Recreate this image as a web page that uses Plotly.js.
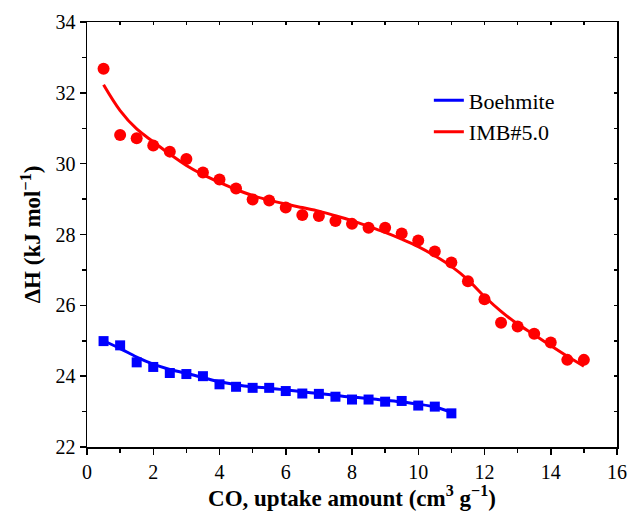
<!DOCTYPE html>
<html>
<head>
<meta charset="utf-8">
<script src="https://cdn.plot.ly/plotly-3.0.1.min.js"></script>
</head>
<body style="margin:0">
<div id="chart"></div>
<script>
// Data
const xImb = [0.5,1,1.5,2,2.5,3,3.5,4,4.5,5,5.5,6,6.5,7,7.5,8,8.5,9,9.5,10,10.5,11,11.5,12,12.5,13,13.5,14,14.5,15];
const yImb = [32.68,30.81,30.72,30.51,30.34,30.13,29.75,29.55,29.30,28.99,28.96,28.76,28.55,28.52,28.38,28.30,28.19,28.19,28.03,27.83,27.52,27.21,26.68,26.17,25.51,25.40,25.20,24.95,24.46,24.46];
const yImbFit = [32.23,31.50,30.98,30.62,30.27,29.95,29.69,29.47,29.27,29.10,28.97,28.86,28.76,28.66,28.53,28.39,28.23,28.06,27.87,27.66,27.40,27.10,26.72,26.25,25.83,25.47,25.17,24.86,24.56,24.28];

const xBoe = [0.5,1,1.5,2,2.5,3,3.5,4,4.5,5,5.5,6,6.5,7,7.5,8,8.5,9,9.5,10,10.5,11];
const yBoe = [24.99,24.87,24.39,24.26,24.09,24.06,24.00,23.77,23.70,23.67,23.67,23.58,23.51,23.50,23.42,23.34,23.34,23.28,23.30,23.17,23.14,22.95];
const yBoeFit = [25.00,24.78,24.54,24.34,24.19,24.08,23.96,23.84,23.76,23.70,23.66,23.61,23.56,23.51,23.46,23.41,23.37,23.32,23.27,23.21,23.13,22.98];

const xTicks = [0,2,4,6,8,10,12,14,16];
const yTicks = [22,24,26,28,30,32,34];

const FAM = 'Liberation Serif';

const traces = [
  {x: xBoe, y: yBoeFit, mode: 'lines', name: 'Boehmite', line: {color: '#0000ff', width: 3, shape: 'spline'}},
  {x: xImb, y: yImbFit, mode: 'lines', name: 'IMB#5.0', line: {color: '#ff0000', width: 3, shape: 'spline'}},
  {x: xBoe, y: yBoe, mode: 'markers', showlegend: false, marker: {symbol: 'square', size: 10, color: '#0000ff'}},
  {x: xImb, y: yImb, mode: 'markers', showlegend: false, marker: {symbol: 'circle', size: 12, color: '#ff0000'}}
];

const layout = {
  width: 630, height: 518,
  margin: {l: 87, r: 13, t: 22, b: 71},
  paper_bgcolor: '#fff', plot_bgcolor: '#fff',
  showlegend: true,
  legend: {x: 0.645, y: 0.865, xanchor: 'left', yanchor: 'top', bgcolor: 'rgba(0,0,0,0)',
           font: {family: FAM, size: 22, color: '#000'}, tracegroupgap: 0},
  xaxis: {
    showgrid: false, zeroline: false, showline: true, linecolor: '#000', linewidth: 1.5,
    tickfont: {family: FAM, size: 20, color: '#000'},
    range: [0, 16], tickmode: 'array', tickvals: xTicks, ticktext: xTicks.map(String),
    ticks: 'outside', ticklen: 6, tickwidth: 1.5, tickcolor: '#000',
    minor: {dtick: 1, tick0: 0, ticks: 'outside', ticklen: 4, tickwidth: 1.5, tickcolor: '#000', showgrid: false},
    title: {text: '<b>CO, uptake amount (cm<sup>3</sup> g<sup>−1</sup>)</b>', font: {family: FAM, size: 23, color: '#000'}, standoff: 4}
  },
  yaxis: {
    showgrid: false, zeroline: false, showline: true, linecolor: '#000', linewidth: 1.5,
    tickfont: {family: FAM, size: 20, color: '#000'},
    range: [22, 34], tickmode: 'array', tickvals: yTicks, ticktext: yTicks.map(String),
    ticks: 'outside', ticklen: 6, tickwidth: 1.5, tickcolor: '#000',
    minor: {dtick: 1, tick0: 22, ticks: 'outside', ticklen: 4, tickwidth: 1.5, tickcolor: '#000', showgrid: false},
    title: {text: '<b>ΔH (kJ mol<sup>−1</sup>)</b>', font: {family: FAM, size: 23, color: '#000'}, standoff: 8}
  },
  xaxis2: {overlaying: 'x', side: 'top', range: [0, 16], showgrid: false, zeroline: false, showline: true,
    linecolor: '#000', linewidth: 1.5, ticks: 'inside', ticklen: 3, tickwidth: 1.5, tickcolor: '#000',
    dtick: 1, tick0: 0, showticklabels: false, anchor: 'y'},
  yaxis2: {overlaying: 'y', side: 'right', range: [22, 34], showgrid: false, zeroline: false, showline: true,
    linecolor: '#000', linewidth: 1.5, ticks: 'inside', ticklen: 3, tickwidth: 1.5, tickcolor: '#000',
    dtick: 1, tick0: 22, showticklabels: false, anchor: 'x'}
};

// invisible trace to activate the mirror axes
traces.push({x: [0], y: [22], xaxis: 'x2', yaxis: 'y2', mode: 'markers', marker: {opacity: 0}, showlegend: false, hoverinfo: 'skip'});

Plotly.newPlot('chart', traces, layout, {displayModeBar: false, staticPlot: true});
</script>
</body>
</html>
